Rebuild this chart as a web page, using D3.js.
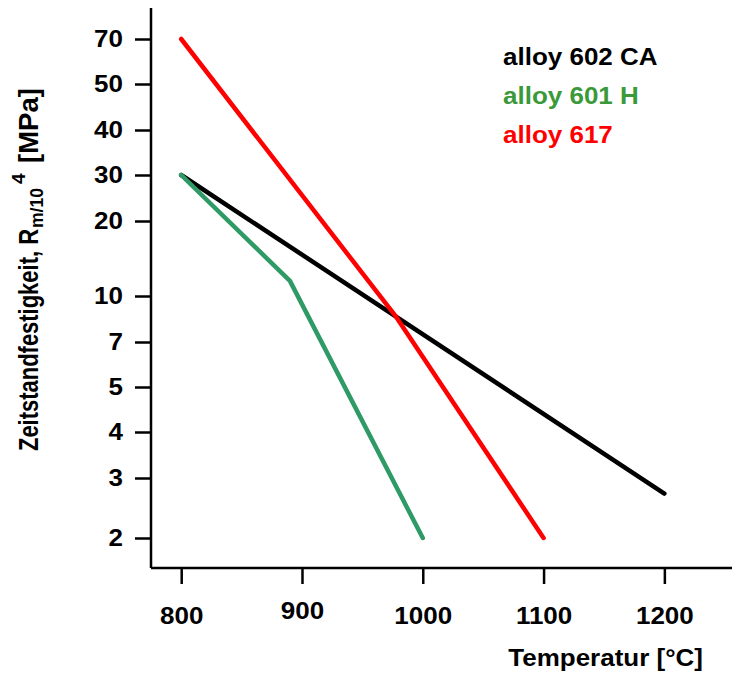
<!DOCTYPE html>
<html>
<head>
<meta charset="utf-8">
<script src="https://cdn.jsdelivr.net/npm/d3@7"></script>
<style>
  body { margin: 0; background: #fff; }
  text { font-family: "Liberation Sans", Arial, sans-serif; font-weight: bold; }
</style>
</head>
<body>
<div id="chart"></div>
<script>
// data
const alloy602 = [[800, 30], [1200, 2.7]];
const alloy601 = [[800, 30], [890, 11.5], [1000, 2]];
const alloy617 = [[800, 70], [978, 8.5], [1100, 2]];

const seriesNames = ["alloy 602 CA", "alloy 601 H", "alloy 617"];
const lineColors = ["#000000", "#2e9a66", "#ff0000"];
const textColors = ["#000000", "#3a9a3a", "#ff0000"];

const xTicks = [800, 900, 1000, 1100, 1200];
const yTicks = [70, 50, 40, 30, 20, 10, 7, 5, 4, 3, 2];
// the original axis is not evenly logarithmic, so each tick gets its own pixel row
const yTickRows = [39, 84, 130, 175, 221, 296, 342, 387, 432, 478, 538];

const width = 732, height = 673;
const plotLeft = 151, plotBottom = 568, plotTop = 8;
const squash = 0.9;   // text in the original looks a little flattened

const svg = d3.select("#chart").append("svg")
  .attr("width", width)
  .attr("height", height);

const x = d3.scaleLinear()
  .domain([775, 1256])
  .range([plotLeft, width]);

const y = d3.scaleLog()
  .domain(yTicks)
  .range(yTickRows);

// axes
const xAxis = svg.append("g")
  .attr("transform", "translate(0," + plotBottom + ")")
  .call(d3.axisBottom(x).tickValues(xTicks).tickSize(16).tickFormat(d3.format("d")));
xAxis.select(".domain").attr("d", "M" + plotLeft + ",0H" + width);

const yAxis = svg.append("g")
  .attr("transform", "translate(" + plotLeft + ",0)")
  .call(d3.axisLeft(y).tickValues(yTicks).tickSize(16).tickPadding(12).tickFormat(d3.format("d")));
yAxis.select(".domain").attr("d", "M0," + plotTop + "V" + plotBottom);

svg.selectAll(".domain, .tick line")
  .attr("stroke", "#000")
  .attr("stroke-width", 2.5);
svg.selectAll(".tick text")
  .attr("fill", "#000")
  .style("font-size", "26px");
yAxis.selectAll(".tick text")
  .attr("transform", "scale(1," + squash + ")");
xAxis.selectAll(".tick text")
  .attr("dy", 0)
  .attr("y", d => d === 900 ? 51 : 56)
  .attr("transform", d => "translate(0," + (d === 900 ? 51 : 56) * (1 - squash) + ") scale(1," + squash + ")");

// lines
const line = d3.line()
  .x(d => x(d[0]))
  .y(d => y(d[1]));

[alloy602, alloy601, alloy617].forEach(function(s, i) {
  svg.append("path")
    .datum(s)
    .attr("d", line)
    .attr("fill", "none")
    .attr("stroke", lineColors[i])
    .attr("stroke-width", 4.5)
    .attr("stroke-linecap", "round")
    .attr("stroke-linejoin", "round");
});

// legend
svg.selectAll(".legend")
  .data(seriesNames)
  .enter()
  .append("text")
  .attr("class", "legend")
  .attr("fill", (d, i) => textColors[i])
  .attr("transform", (d, i) => "translate(503," + (65 + i * 39) + ") scale(1," + squash + ")")
  .style("font-size", "26px")
  .text(d => d);

// axis titles
svg.append("text")
  .attr("text-anchor", "end")
  .attr("transform", "translate(703,666) scale(1," + squash + ")")
  .style("font-size", "26px")
  .text("Temperatur [°C]");

// rotated y title, pieces placed along the text direction
const yTitle = svg.append("g")
  .attr("transform", "translate(38,0) rotate(-90)");
yTitle.append("text")
  .attr("x", -451).attr("y", 0)
  .attr("textLength", 222).attr("lengthAdjust", "spacingAndGlyphs")
  .style("font-size", "28px")
  .text("Zeitstandfestigkeit, R");
yTitle.append("text")
  .attr("x", -228).attr("y", 5)
  .attr("textLength", 40).attr("lengthAdjust", "spacingAndGlyphs")
  .style("font-size", "19px")
  .text("m/10");
yTitle.append("text")
  .attr("x", -184).attr("y", -13)
  .style("font-size", "19px")
  .text("4");
yTitle.append("text")
  .attr("x", -163).attr("y", 0)
  .attr("textLength", 75).attr("lengthAdjust", "spacingAndGlyphs")
  .style("font-size", "28px")
  .text("[MPa]");
</script>
</body>
</html>
